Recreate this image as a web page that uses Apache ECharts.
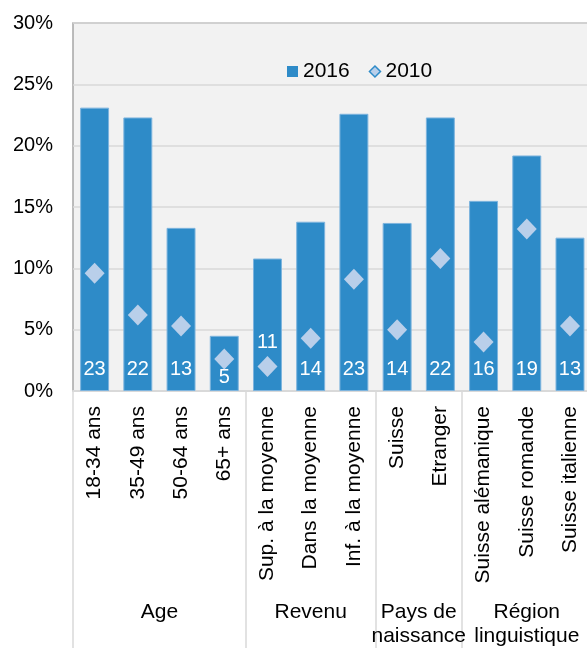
<!DOCTYPE html>
<html>
<head>
<meta charset="utf-8">
<script src="https://cdn.jsdelivr.net/npm/echarts@6/dist/echarts.min.js"></script>
<style>
  html, body { margin: 0; padding: 0; background: #ffffff; }
  #chart { width: 587px; height: 648px; }
</style>
</head>
<body>
<div id="chart"></div>
<script>
// Categories along the x axis
const categories = [
  '18-34 ans', '35-49 ans', '50-64 ans', '65+ ans',
  'Sup. à la moyenne', 'Dans la moyenne', 'Inf. à la moyenne',
  'Suisse', 'Etranger',
  'Suisse alémanique', 'Suisse romande', 'Suisse italienne'
];
// Group headings and the category index where each group starts / its centre
const groupNames = ['Age', 'Revenu', 'Pays de\nnaissance', 'Région\nlinguistique'];
const groupBounds = [0, 4, 7, 9, 12];

// Shares in percent
const values2016 = [23.1, 22.3, 13.3, 4.5, 10.8, 13.8, 22.6, 13.7, 22.3, 15.5, 19.2, 12.5];
const values2010 = [9.6, 6.2, 5.3, 2.6, 2.0, 4.3, 9.1, 5.0, 10.8, 4.0, 13.2, 5.3];

// Y axis ticks
const yTicks = [0, 5, 10, 15, 20, 25, 30];

// Vertical nudges for a few bar labels (pixels)
const labelNudge = [0, 0, 0, 8, -27, 0, 0, 0, 0, 0, 0, 0];

const FONT = 'Liberation Sans, Arial, sans-serif';
const BAR_COLOR = '#2e8bc8';
const DIAMOND_COLOR = '#b9cfea';

const groupCentres = groupNames.map((_, i) => (groupBounds[i] + groupBounds[i + 1]) / 2);

const barData = values2016.map((v, i) => ({
  value: v,
  label: { offset: [0, labelNudge[i]] }
}));

const chart = echarts.init(document.getElementById('chart'), null, { renderer: 'canvas' });

chart.setOption({
  animation: false,
  textStyle: { fontFamily: FONT },
  grid: {
    left: 73,
    top: 23,
    width: 518.6,
    height: 368,
    show: true,
    backgroundColor: '#f2f2f2',
    borderColor: '#a6a6a6',
    borderWidth: 1.5,
    containLabel: false,
    outerBoundsMode: 'none'
  },
  legend: {
    left: 287,
    top: 61,
    padding: 0,
    itemWidth: 11,
    itemHeight: 11,
    itemGap: 19,
    textStyle: { fontSize: 21, color: '#000', fontFamily: FONT },
    data: [
      { name: '2016', icon: 'rect', itemStyle: { color: BAR_COLOR, borderWidth: 0 } },
      { name: '2010', icon: 'diamond', itemStyle: { color: DIAMOND_COLOR, borderColor: BAR_COLOR, borderWidth: 1.5 } }
    ]
  },
  xAxis: [
    {
      type: 'category',
      data: categories,
      boundaryGap: true,
      axisLine: { show: true, lineStyle: { color: '#d9d9d9', width: 2 } },
      axisTick: { show: false },
      axisLabel: {
        rotate: 90,
        interval: 0,
        margin: 15,
        fontSize: 21,
        color: '#000',
        fontFamily: FONT
      },
      splitLine: { show: false }
    },
    {
      type: 'value',
      position: 'bottom',
      min: 0,
      max: 12,
      axisLine: { show: false },
      splitLine: { show: false },
      axisTick: {
        show: true,
        inside: false,
        customValues: groupBounds,
        length: 257,
        lineStyle: { color: '#d9d9d9', width: 1.5 }
      },
      axisLabel: {
        show: true,
        customValues: groupCentres,
        margin: 209,
        fontSize: 21,
        lineHeight: 24,
        color: '#000',
        fontFamily: FONT,
        formatter: function (v) {
          const i = groupCentres.indexOf(v);
          return i >= 0 ? groupNames[i] : '';
        }
      }
    }
  ],
  yAxis: {
    type: 'value',
    min: yTicks[0],
    max: yTicks[yTicks.length - 1],
    interval: yTicks[1] - yTicks[0],
    axisLine: { show: false },
    axisTick: { show: false },
    axisLabel: {
      margin: 20,
      fontSize: 20,
      color: '#000',
      fontFamily: FONT,
      formatter: '{value}%'
    },
    splitLine: { show: true, lineStyle: { color: '#d9d9d9', width: 1.5 } }
  },
  series: [
    {
      name: '2016',
      type: 'bar',
      xAxisIndex: 0,
      data: barData,
      barCategoryGap: '33%',
      itemStyle: { color: BAR_COLOR, borderColor: '#7db4de', borderWidth: 1 },
      label: {
        show: true,
        position: 'insideBottom',
        distance: 12,
        color: '#fff',
        fontSize: 20,
        fontFamily: FONT,
        formatter: p => Math.round(p.value)
      },
      z: 2
    },
    {
      name: '2010',
      type: 'scatter',
      xAxisIndex: 0,
      data: values2010,
      symbol: 'diamond',
      symbolSize: [20, 21],
      itemStyle: { color: DIAMOND_COLOR, opacity: 1 },
      z: 3
    }
  ]
});
</script>
</body>
</html>
